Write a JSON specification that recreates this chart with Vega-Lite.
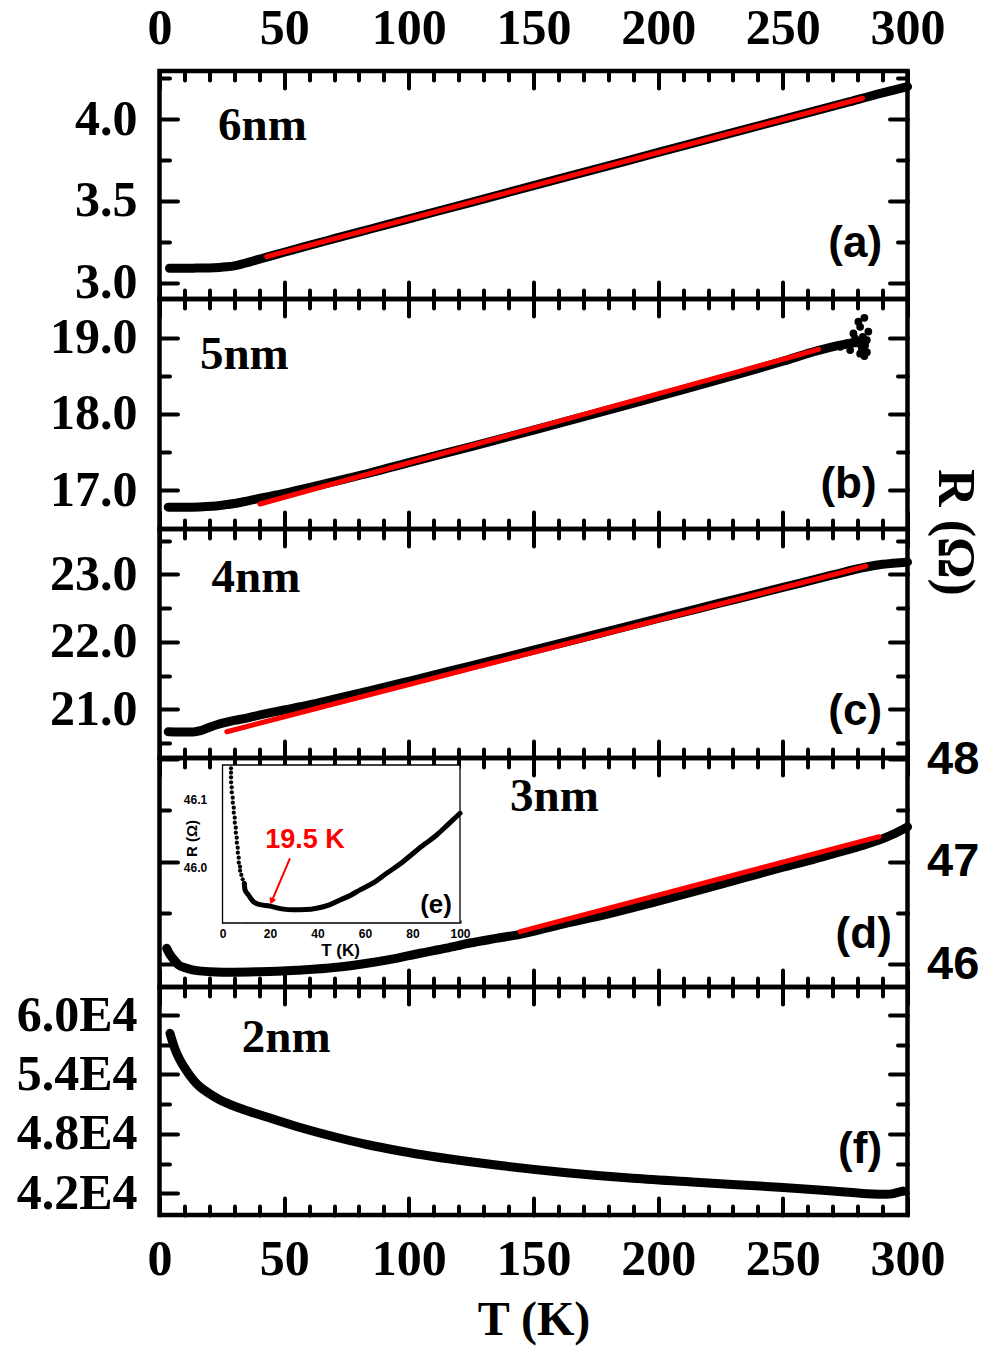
{
"$schema": "https://vega.github.io/schema/vega-lite/v6.json",
"background": "white",
"padding": {"left": 13.5, "top": 0, "right": 5, "bottom": 5},
"bounds": "flush",
"spacing": 0,
"config": {
  "view": {"stroke": "black", "strokeWidth": 4.5},
  "axis": {"domain": false, "grid": false, "tickColor": "black", "tickWidth": 4, "tickCap": "round", "labelFont": "Liberation Serif", "labelFontWeight": "bold", "labelFontSize": 50, "labelColor": "black", "labelFlush": false, "labelOverlap": false, "titleFont": "Liberation Serif", "titleFontWeight": "bold", "titleColor": "black"}
},
"datasets": {
  "a_black": [{"T":4,"R":3.088},{"T":10,"R":3.088},{"T":15,"R":3.089},{"T":20,"R":3.09},{"T":24,"R":3.093},{"T":27,"R":3.097},{"T":30,"R":3.103},{"T":33,"R":3.113},{"T":36,"R":3.126},{"T":39,"R":3.139},{"T":43,"R":3.156},{"T":50,"R":3.186},{"T":60,"R":3.228},{"T":70,"R":3.269},{"T":85,"R":3.33},{"T":100,"R":3.391},{"T":125,"R":3.492},{"T":150,"R":3.594},{"T":175,"R":3.695},{"T":200,"R":3.797},{"T":225,"R":3.898},{"T":250,"R":4.0},{"T":275,"R":4.1},{"T":290,"R":4.162},{"T":300,"R":4.2}],
  "a_red": [{"T":43,"R":3.159},{"T":282,"R":4.129}],
  "b_black": [{"T":3.5,"R":16.775},{"T":10,"R":16.775},{"T":16,"R":16.778},{"T":21,"R":16.786},{"T":25,"R":16.8},{"T":30,"R":16.823},{"T":35,"R":16.855},{"T":40,"R":16.89},{"T":50,"R":16.955},{"T":60,"R":17.03},{"T":70,"R":17.11},{"T":85,"R":17.23},{"T":100,"R":17.36},{"T":125,"R":17.57},{"T":150,"R":17.785},{"T":175,"R":18.005},{"T":200,"R":18.23},{"T":230,"R":18.5},{"T":250,"R":18.69},{"T":264,"R":18.83},{"T":272,"R":18.895},{"T":283,"R":18.96}],
  "b_red": [{"T":40.3,"R":16.816},{"T":264.3,"R":18.846}],
  "b_noise": [{"T":282.7,"R":19.261},{"T":282.7,"R":18.758},{"T":281,"R":19.143},{"T":282.1,"R":19.012},{"T":283.7,"R":18.969},{"T":278.3,"R":19.056},{"T":279.7,"R":18.925},{"T":275.6,"R":18.925},{"T":281.7,"R":18.86},{"T":277,"R":18.837},{"T":274.3,"R":18.9},{"T":284.3,"R":19.08},{"T":280.3,"R":19.21},{"T":283.7,"R":18.81},{"T":273,"R":18.88},{"T":279,"R":18.99},{"T":283,"R":18.9},{"T":281,"R":18.79}],
  "c_black": [{"T":3.5,"R":20.668},{"T":8,"R":20.664},{"T":13.6,"R":20.665},{"T":16.5,"R":20.685},{"T":19.5,"R":20.725},{"T":23,"R":20.77},{"T":26.5,"R":20.805},{"T":30,"R":20.835},{"T":35,"R":20.87},{"T":40,"R":20.915},{"T":50,"R":20.99},{"T":60,"R":21.065},{"T":70,"R":21.15},{"T":85,"R":21.28},{"T":100,"R":21.415},{"T":125,"R":21.645},{"T":150,"R":21.875},{"T":175,"R":22.11},{"T":200,"R":22.345},{"T":225,"R":22.575},{"T":250,"R":22.805},{"T":270,"R":22.99},{"T":283,"R":23.105},{"T":290,"R":23.148},{"T":300,"R":23.18}],
  "c_red": [{"T":27,"R":20.668},{"T":283.4,"R":23.12}],
  "d_black": [{"T":2.9,"R":46.153},{"T":4,"R":46.1},{"T":5.5,"R":46.05},{"T":7.5,"R":45.995},{"T":10.9,"R":45.958},{"T":15,"R":45.935},{"T":20.3,"R":45.925},{"T":30,"R":45.92},{"T":40.3,"R":45.925},{"T":55,"R":45.94},{"T":67,"R":45.958},{"T":80,"R":45.995},{"T":93.8,"R":46.05},{"T":104.5,"R":46.105},{"T":115,"R":46.155},{"T":124.5,"R":46.205},{"T":135,"R":46.25},{"T":144.6,"R":46.29},{"T":160,"R":46.38},{"T":180,"R":46.49},{"T":200,"R":46.615},{"T":216.8,"R":46.723},{"T":235,"R":46.845},{"T":250,"R":46.945},{"T":262,"R":47.02},{"T":272,"R":47.09},{"T":280,"R":47.145},{"T":288.6,"R":47.21},{"T":294,"R":47.265},{"T":300,"R":47.34}],
  "d_red": [{"T":144.6,"R":46.316},{"T":288.6,"R":47.244}],
  "inset_dots": [{"T":3.58,"R":46.1447},{"T":3.58,"R":46.1383},{"T":3.6,"R":46.1316},{"T":3.62,"R":46.1243},{"T":3.87,"R":46.117},{"T":3.9,"R":46.1097},{"T":4.29,"R":46.1019},{"T":4.32,"R":46.0946},{"T":4.72,"R":46.0873},{"T":4.75,"R":46.0801},{"T":5.14,"R":46.0728},{"T":5.17,"R":46.0655},{"T":5.56,"R":46.0582},{"T":5.6,"R":46.0509},{"T":5.98,"R":46.0437},{"T":6.02,"R":46.0364},{"T":6.4,"R":46.0291},{"T":6.44,"R":46.0218},{"T":6.82,"R":46.0146},{"T":6.86,"R":46.0073},{"T":7.37,"R":46.0015},{"T":7.4,"R":45.9956},{"T":7.92,"R":45.9894},{"T":8.5,"R":45.983},{"T":9.18,"R":45.977}],
  "inset_line": [{"T":9.18,"R":45.977},{"T":9.47,"R":45.968},{"T":10.95,"R":45.96},{"T":12.97,"R":45.9505},{"T":15,"R":45.947},{"T":20,"R":45.944},{"T":25,"R":45.94},{"T":29.8,"R":45.9386},{"T":35,"R":45.939},{"T":39.66,"R":45.941},{"T":45,"R":45.946},{"T":49.47,"R":45.953},{"T":54,"R":45.96},{"T":57.9,"R":45.9677},{"T":64,"R":45.979},{"T":69.1,"R":45.9918},{"T":75,"R":46.006},{"T":80.3,"R":46.021},{"T":85,"R":46.034},{"T":90.2,"R":46.0476},{"T":95,"R":46.063},{"T":100,"R":46.0792}],
  "f_black": [{"T":4.2,"R":58150},{"T":6,"R":56700},{"T":8.2,"R":55450},{"T":10.5,"R":54500},{"T":13.6,"R":53435},{"T":16,"R":52800},{"T":18.9,"R":52250},{"T":24.3,"R":51415},{"T":32.3,"R":50581},{"T":43,"R":49703},{"T":56.4,"R":48643},{"T":69.7,"R":47734},{"T":83.1,"R":46927},{"T":96.4,"R":46271},{"T":109.7,"R":45716},{"T":123.2,"R":45231},{"T":136.6,"R":44807},{"T":163.3,"R":44080},{"T":189.9,"R":43515},{"T":216.8,"R":43091},{"T":250.1,"R":42586},{"T":270.1,"R":42233},{"T":283.8,"R":41960},{"T":291.8,"R":41899},{"T":298.2,"R":42233}]
},
"vconcat": [
{
 "width": 748, "height": 228,
 "layer": [
  {"data": {"name": "a_black"}, "mark": {"type": "line", "color": "black", "strokeWidth": 9, "strokeCap": "round", "strokeJoin": "round", "interpolate": "monotone"},
   "encoding": {"x": {"field": "T", "type": "quantitative", "scale": {"domain": [0, 300], "nice": false, "zero": false}, "axis": {"orient": "bottom", "values": [0,50,100,150,200,250,300], "tickSize": -17, "labels": false, "title": null}},
                "y": {"field": "R", "type": "quantitative", "scale": {"domain": [2.9, 4.2956], "nice": false, "zero": false}, "axis": {"orient": "left", "values": [3, 3.5, 4], "tickSize": -18, "labelPadding": 40.5, "format": ".1f", "title": null}}}},
  {"data": {"name": "a_red"}, "mark": {"type": "line", "color": "#ff0000", "strokeWidth": 5, "strokeCap": "round"},
   "encoding": {"x": {"field": "T", "type": "quantitative", "scale": {"domain": [0, 300], "nice": false, "zero": false}, "axis": {"orient": "top", "values": [0,50,100,150,200,250,300], "tickSize": -17, "labelPadding": 35, "format": "d", "title": null}},
                "y": {"field": "R", "type": "quantitative", "scale": {"domain": [2.9, 4.2956], "nice": false, "zero": false}, "axis": {"orient": "right", "values": [3, 3.5, 4], "tickSize": -18, "labels": false, "title": null}}}},
  {"data": {"name": "a_red"}, "mark": {"type": "line", "opacity": 0},
   "encoding": {"x": {"field": "T", "type": "quantitative", "scale": {"domain": [0, 300], "nice": false, "zero": false}, "axis": {"orient": "bottom", "values": [10,20,30,40,60,70,80,90,110,120,130,140,160,170,180,190,210,220,230,240,260,270,280,290], "tickSize": -9, "labels": false, "title": null}},
                "y": {"field": "R", "type": "quantitative", "scale": {"domain": [2.9, 4.2956], "nice": false, "zero": false}, "axis": {"orient": "left", "values": [3.25, 3.75, 4.25], "tickSize": -10, "labels": false, "title": null}}}},
  {"data": {"name": "a_red"}, "mark": {"type": "line", "opacity": 0},
   "encoding": {"x": {"field": "T", "type": "quantitative", "scale": {"domain": [0, 300], "nice": false, "zero": false}, "axis": {"orient": "top", "values": [10,20,30,40,60,70,80,90,110,120,130,140,160,170,180,190,210,220,230,240,260,270,280,290], "tickSize": -9, "labels": false, "title": null}},
                "y": {"field": "R", "type": "quantitative", "scale": {"domain": [2.9, 4.2956], "nice": false, "zero": false}, "axis": {"orient": "right", "values": [3.25, 3.75, 4.25], "tickSize": -10, "labels": false, "title": null}}}},
  {"data": {"values": [{}]}, "mark": {"type": "text", "text": "6nm", "font": "Liberation Serif", "fontWeight": "bold", "fontSize": 47, "align": "left", "baseline": "alphabetic", "color": "black"},
   "encoding": {"x": {"datum": 23.5, "type": "quantitative", "scale": {"domain": [0, 300], "nice": false, "zero": false}, "axis": null},
                "y": {"datum": 3.873, "type": "quantitative", "scale": {"domain": [2.9, 4.2956], "nice": false, "zero": false}, "axis": null}}},
  {"data": {"values": [{}]}, "mark": {"type": "text", "text": "(a)", "font": "Liberation Sans", "fontWeight": "bold", "fontSize": 44, "align": "right", "baseline": "alphabetic", "color": "black"},
   "encoding": {"x": {"datum": 289.8, "type": "quantitative", "scale": {"domain": [0, 300], "nice": false, "zero": false}, "axis": null},
                "y": {"datum": 3.157, "type": "quantitative", "scale": {"domain": [2.9, 4.2956], "nice": false, "zero": false}, "axis": null}}}
 ],
 "resolve": {"axis": {"x": "independent", "y": "independent"}}
},
{
 "width": 748, "height": 230,
 "layer": [
  {"data": {"name": "b_black"}, "mark": {"type": "line", "color": "black", "strokeWidth": 9, "strokeCap": "round", "strokeJoin": "round", "interpolate": "monotone"},
   "encoding": {"x": {"field": "T", "type": "quantitative", "scale": {"domain": [0, 300], "nice": false, "zero": false}, "axis": {"orient": "bottom", "values": [0,50,100,150,200,250,300], "tickSize": -17, "labels": false, "title": null}},
                "y": {"field": "R", "type": "quantitative", "scale": {"domain": [16.488, 19.508], "nice": false, "zero": false}, "axis": {"orient": "left", "values": [17, 18, 19], "tickSize": -18, "labelPadding": 40.5, "format": ".1f", "title": null}}}},
  {"data": {"name": "b_noise"}, "mark": {"type": "point", "filled": true, "color": "black", "opacity": 1, "size": 60},
   "encoding": {"x": {"field": "T", "type": "quantitative", "scale": {"domain": [0, 300], "nice": false, "zero": false}, "axis": null},
                "y": {"field": "R", "type": "quantitative", "scale": {"domain": [16.488, 19.508], "nice": false, "zero": false}, "axis": null}}},
  {"data": {"name": "b_red"}, "mark": {"type": "line", "color": "#ff0000", "strokeWidth": 5, "strokeCap": "round"},
   "encoding": {"x": {"field": "T", "type": "quantitative", "scale": {"domain": [0, 300], "nice": false, "zero": false}, "axis": {"orient": "top", "values": [0,50,100,150,200,250,300], "tickSize": -17, "labels": false, "title": null}},
                "y": {"field": "R", "type": "quantitative", "scale": {"domain": [16.488, 19.508], "nice": false, "zero": false}, "axis": {"orient": "right", "values": [17, 18, 19], "tickSize": -18, "labels": false, "title": "R (Ω)", "titleFontSize": 52, "titleAngle": 90, "titleX": 46.5, "titleY": 233, "titleAlign": "center", "titleBaseline": "middle"}}}},
  {"data": {"name": "b_red"}, "mark": {"type": "line", "opacity": 0},
   "encoding": {"x": {"field": "T", "type": "quantitative", "scale": {"domain": [0, 300], "nice": false, "zero": false}, "axis": {"orient": "bottom", "values": [10,20,30,40,60,70,80,90,110,120,130,140,160,170,180,190,210,220,230,240,260,270,280,290], "tickSize": -9, "labels": false, "title": null}},
                "y": {"field": "R", "type": "quantitative", "scale": {"domain": [16.488, 19.508], "nice": false, "zero": false}, "axis": {"orient": "left", "values": [17.5, 18.5], "tickSize": -10, "labels": false, "title": null}}}},
  {"data": {"name": "b_red"}, "mark": {"type": "line", "opacity": 0},
   "encoding": {"x": {"field": "T", "type": "quantitative", "scale": {"domain": [0, 300], "nice": false, "zero": false}, "axis": {"orient": "top", "values": [10,20,30,40,60,70,80,90,110,120,130,140,160,170,180,190,210,220,230,240,260,270,280,290], "tickSize": -9, "labels": false, "title": null}},
                "y": {"field": "R", "type": "quantitative", "scale": {"domain": [16.488, 19.508], "nice": false, "zero": false}, "axis": {"orient": "right", "values": [17.5, 18.5], "tickSize": -10, "labels": false, "title": null}}}},
  {"data": {"values": [{}]}, "mark": {"type": "text", "text": "5nm", "font": "Liberation Serif", "fontWeight": "bold", "fontSize": 47, "align": "left", "baseline": "alphabetic", "color": "black"},
   "encoding": {"x": {"datum": 16.2, "type": "quantitative", "scale": {"domain": [0, 300], "nice": false, "zero": false}, "axis": null},
                "y": {"datum": 18.588, "type": "quantitative", "scale": {"domain": [16.488, 19.508], "nice": false, "zero": false}, "axis": null}}},
  {"data": {"values": [{}]}, "mark": {"type": "text", "text": "(b)", "font": "Liberation Sans", "fontWeight": "bold", "fontSize": 44, "align": "right", "baseline": "alphabetic", "color": "black"},
   "encoding": {"x": {"datum": 287.6, "type": "quantitative", "scale": {"domain": [0, 300], "nice": false, "zero": false}, "axis": null},
                "y": {"datum": 16.891, "type": "quantitative", "scale": {"domain": [16.488, 19.508], "nice": false, "zero": false}, "axis": null}}}
 ],
 "resolve": {"axis": {"x": "independent", "y": "independent"}}
},
{
 "width": 748, "height": 229,
 "layer": [
  {"data": {"name": "c_black"}, "mark": {"type": "line", "color": "black", "strokeWidth": 9, "strokeCap": "round", "strokeJoin": "round", "interpolate": "monotone"},
   "encoding": {"x": {"field": "T", "type": "quantitative", "scale": {"domain": [0, 300], "nice": false, "zero": false}, "axis": {"orient": "bottom", "values": [0,50,100,150,200,250,300], "tickSize": -17, "labels": false, "title": null}},
                "y": {"field": "R", "type": "quantitative", "scale": {"domain": [20.2785, 23.671], "nice": false, "zero": false}, "axis": {"orient": "left", "values": [21, 22, 23], "tickSize": -18, "labelPadding": 40.5, "format": ".1f", "title": null}}}},
  {"data": {"name": "c_red"}, "mark": {"type": "line", "color": "#ff0000", "strokeWidth": 5, "strokeCap": "round"},
   "encoding": {"x": {"field": "T", "type": "quantitative", "scale": {"domain": [0, 300], "nice": false, "zero": false}, "axis": {"orient": "top", "values": [0,50,100,150,200,250,300], "tickSize": -17, "labels": false, "title": null}},
                "y": {"field": "R", "type": "quantitative", "scale": {"domain": [20.2785, 23.671], "nice": false, "zero": false}, "axis": {"orient": "right", "values": [21, 22, 23], "tickSize": -18, "labels": false, "title": null}}}},
  {"data": {"name": "c_red"}, "mark": {"type": "line", "opacity": 0},
   "encoding": {"x": {"field": "T", "type": "quantitative", "scale": {"domain": [0, 300], "nice": false, "zero": false}, "axis": {"orient": "bottom", "values": [10,20,30,40,60,70,80,90,110,120,130,140,160,170,180,190,210,220,230,240,260,270,280,290], "tickSize": -9, "labels": false, "title": null}},
                "y": {"field": "R", "type": "quantitative", "scale": {"domain": [20.2785, 23.671], "nice": false, "zero": false}, "axis": {"orient": "left", "values": [20.5, 21.5, 22.5, 23.5], "tickSize": -10, "labels": false, "title": null}}}},
  {"data": {"name": "c_red"}, "mark": {"type": "line", "opacity": 0},
   "encoding": {"x": {"field": "T", "type": "quantitative", "scale": {"domain": [0, 300], "nice": false, "zero": false}, "axis": {"orient": "top", "values": [10,20,30,40,60,70,80,90,110,120,130,140,160,170,180,190,210,220,230,240,260,270,280,290], "tickSize": -9, "labels": false, "title": null}},
                "y": {"field": "R", "type": "quantitative", "scale": {"domain": [20.2785, 23.671], "nice": false, "zero": false}, "axis": {"orient": "right", "values": [20.5, 21.5, 22.5, 23.5], "tickSize": -10, "labels": false, "title": null}}}},
  {"data": {"values": [{}]}, "mark": {"type": "text", "text": "4nm", "font": "Liberation Serif", "fontWeight": "bold", "fontSize": 47, "align": "left", "baseline": "alphabetic", "color": "black"},
   "encoding": {"x": {"datum": 20.9, "type": "quantitative", "scale": {"domain": [0, 300], "nice": false, "zero": false}, "axis": null},
                "y": {"datum": 22.733, "type": "quantitative", "scale": {"domain": [20.2785, 23.671], "nice": false, "zero": false}, "axis": null}}},
  {"data": {"values": [{}]}, "mark": {"type": "text", "text": "(c)", "font": "Liberation Sans", "fontWeight": "bold", "fontSize": 44, "align": "right", "baseline": "alphabetic", "color": "black"},
   "encoding": {"x": {"datum": 289.8, "type": "quantitative", "scale": {"domain": [0, 300], "nice": false, "zero": false}, "axis": null},
                "y": {"datum": 20.767, "type": "quantitative", "scale": {"domain": [20.2785, 23.671], "nice": false, "zero": false}, "axis": null}}}
 ],
 "resolve": {"axis": {"x": "independent", "y": "independent"}}
},
{
 "width": 748, "height": 229,
 "layer": [
  {"layer": [
    {"data": {"name": "d_black"}, "mark": {"type": "line", "color": "black", "strokeWidth": 9, "strokeCap": "round", "strokeJoin": "round", "interpolate": "monotone"},
     "encoding": {"x": {"field": "T", "type": "quantitative", "scale": {"domain": [0, 300], "nice": false, "zero": false}, "axis": {"orient": "bottom", "values": [0,50,100,150,200,250,300], "tickSize": -17, "labels": false, "title": null}},
                  "y": {"field": "R", "type": "quantitative", "scale": {"domain": [45.7753, 48.0127], "nice": false, "zero": false}, "axis": {"orient": "left", "values": [46, 47, 48], "tickSize": -18, "labels": false, "title": null}}}},
    {"data": {"name": "d_red"}, "mark": {"type": "line", "color": "#ff0000", "strokeWidth": 5, "strokeCap": "round"},
     "encoding": {"x": {"field": "T", "type": "quantitative", "scale": {"domain": [0, 300], "nice": false, "zero": false}, "axis": {"orient": "top", "values": [0,50,100,150,200,250,300], "tickSize": -17, "labels": false, "title": null}},
                  "y": {"field": "R", "type": "quantitative", "scale": {"domain": [45.7753, 48.0127], "nice": false, "zero": false}, "axis": {"orient": "right", "values": [46, 47, 48], "tickSize": -18, "labelPadding": 37, "format": "d", "labelFont": "Liberation Sans", "labelFontSize": 47, "title": null}}}},
    {"data": {"name": "d_red"}, "mark": {"type": "line", "opacity": 0},
     "encoding": {"x": {"field": "T", "type": "quantitative", "scale": {"domain": [0, 300], "nice": false, "zero": false}, "axis": {"orient": "bottom", "values": [10,20,30,40,60,70,80,90,110,120,130,140,160,170,180,190,210,220,230,240,260,270,280,290], "tickSize": -9, "labels": false, "title": null}},
                  "y": {"field": "R", "type": "quantitative", "scale": {"domain": [45.7753, 48.0127], "nice": false, "zero": false}, "axis": {"orient": "left", "values": [46.5, 47.5], "tickSize": -10, "labels": false, "title": null}}}},
    {"data": {"name": "d_red"}, "mark": {"type": "line", "opacity": 0},
     "encoding": {"x": {"field": "T", "type": "quantitative", "scale": {"domain": [0, 300], "nice": false, "zero": false}, "axis": {"orient": "top", "values": [10,20,30,40,60,70,80,90,110,120,130,140,160,170,180,190,210,220,230,240,260,270,280,290], "tickSize": -9, "labels": false, "title": null}},
                  "y": {"field": "R", "type": "quantitative", "scale": {"domain": [45.7753, 48.0127], "nice": false, "zero": false}, "axis": {"orient": "right", "values": [46.5, 47.5], "tickSize": -10, "labels": false, "title": null}}}},
    {"data": {"values": [{}]}, "mark": {"type": "text", "text": "3nm", "font": "Liberation Serif", "fontWeight": "bold", "fontSize": 47, "align": "left", "baseline": "alphabetic", "color": "black"},
     "encoding": {"x": {"datum": 140.6, "type": "quantitative", "scale": {"domain": [0, 300], "nice": false, "zero": false}, "axis": null},
                  "y": {"datum": 47.495, "type": "quantitative", "scale": {"domain": [45.7753, 48.0127], "nice": false, "zero": false}, "axis": null}}},
    {"data": {"values": [{}]}, "mark": {"type": "text", "text": "(d)", "font": "Liberation Sans", "fontWeight": "bold", "fontSize": 44, "align": "right", "baseline": "alphabetic", "color": "black"},
     "encoding": {"x": {"datum": 293.7, "type": "quantitative", "scale": {"domain": [0, 300], "nice": false, "zero": false}, "axis": null},
                  "y": {"datum": 46.153, "type": "quantitative", "scale": {"domain": [45.7753, 48.0127], "nice": false, "zero": false}, "axis": null}}}
   ],
   "resolve": {"axis": {"x": "independent", "y": "independent"}}
  },
  {"layer": [
    {"data": {"values": [{}]}, "mark": {"type": "rect", "fill": "white", "stroke": "black", "strokeWidth": 1.3},
     "encoding": {"x": {"datum": 0, "type": "quantitative", "scale": {"domain": [-26.53, 288.42], "nice": false, "zero": false}, "axis": {"orient": "bottom", "offset": -64, "values": [0,20,40,60,80,100], "tickSize": -3, "tickWidth": 1.2, "tickCap": "butt", "labelFont": "Liberation Sans", "labelFontSize": 12, "labelPadding": 8, "format": "d", "title": "T (K)", "titleFont": "Liberation Sans", "titleFontSize": 17, "titleX": 180.5, "titleY": 27, "titleAlign": "center", "titleBaseline": "middle", "titleAngle": 0}},
                  "x2": {"datum": 100},
                  "y": {"datum": 45.9195, "type": "quantitative", "scale": {"domain": [45.8263, 46.1597], "nice": false, "zero": false}, "axis": {"orient": "left", "offset": -63, "values": [46.0, 46.1], "tickSize": -3, "tickWidth": 1.2, "tickCap": "butt", "labelFont": "Liberation Sans", "labelFontSize": 12, "labelPadding": 18.8, "format": ".1f", "title": "R (Ω)", "titleFont": "Liberation Sans", "titleFontSize": 15, "titleX": -30.8, "titleY": 80, "titleAlign": "center", "titleBaseline": "middle", "titleAngle": -90}},
                  "y2": {"datum": 46.1495}}},
    {"data": {"name": "inset_line"}, "mark": {"type": "line", "color": "black", "strokeWidth": 5, "strokeCap": "round", "strokeJoin": "round", "interpolate": "monotone"},
     "encoding": {"x": {"field": "T", "type": "quantitative", "scale": {"domain": [-26.53, 288.42], "nice": false, "zero": false}, "axis": {"orient": "bottom", "offset": -64, "values": [10,30,50,70,90], "tickSize": -2, "tickWidth": 1.2, "tickCap": "butt", "labels": false, "title": null}},
                  "y": {"field": "R", "type": "quantitative", "scale": {"domain": [45.8263, 46.1597], "nice": false, "zero": false}, "axis": {"orient": "left", "offset": -63, "values": [45.95, 46.05], "tickSize": -2, "tickWidth": 1.2, "tickCap": "butt", "labels": false, "title": null}}}},
    {"data": {"name": "inset_dots"}, "mark": {"type": "point", "filled": true, "color": "black", "opacity": 1, "size": 18},
     "encoding": {"x": {"field": "T", "type": "quantitative", "scale": {"domain": [-26.53, 288.42], "nice": false, "zero": false}, "axis": null},
                  "y": {"field": "R", "type": "quantitative", "scale": {"domain": [45.8263, 46.1597], "nice": false, "zero": false}, "axis": null}}},
    {"data": {"values": [{}]}, "mark": {"type": "rule", "color": "#ff0000", "strokeWidth": 2},
     "encoding": {"x": {"datum": 28.4, "type": "quantitative", "scale": {"domain": [-26.53, 288.42], "nice": false, "zero": false}, "axis": null},
                  "x2": {"datum": 20.7},
                  "y": {"datum": 46.0137, "type": "quantitative", "scale": {"domain": [45.8263, 46.1597], "nice": false, "zero": false}, "axis": null},
                  "y2": {"datum": 45.951}}},
    {"data": {"values": [{}]}, "mark": {"type": "point", "shape": "triangle-down", "filled": true, "color": "#ff0000", "opacity": 1, "size": 55, "angle": 23},
     "encoding": {"x": {"datum": 20.7, "type": "quantitative", "scale": {"domain": [-26.53, 288.42], "nice": false, "zero": false}, "axis": null},
                  "y": {"datum": 45.951, "type": "quantitative", "scale": {"domain": [45.8263, 46.1597], "nice": false, "zero": false}, "axis": null}}},
    {"data": {"values": [{}]}, "mark": {"type": "text", "text": "19.5 K", "font": "Liberation Sans", "fontWeight": "bold", "fontSize": 27, "align": "center", "baseline": "alphabetic", "color": "#ff0000"},
     "encoding": {"x": {"datum": 34.7, "type": "quantitative", "scale": {"domain": [-26.53, 288.42], "nice": false, "zero": false}, "axis": null},
                  "y": {"datum": 46.0287, "type": "quantitative", "scale": {"domain": [45.8263, 46.1597], "nice": false, "zero": false}, "axis": null}}},
    {"data": {"values": [{}]}, "mark": {"type": "text", "text": "(e)", "font": "Liberation Sans", "fontWeight": "bold", "fontSize": 26, "align": "center", "baseline": "alphabetic", "color": "black"},
     "encoding": {"x": {"datum": 89.9, "type": "quantitative", "scale": {"domain": [-26.53, 288.42], "nice": false, "zero": false}, "axis": null},
                  "y": {"datum": 45.934, "type": "quantitative", "scale": {"domain": [45.8263, 46.1597], "nice": false, "zero": false}, "axis": null}}}
   ],
   "resolve": {"axis": {"x": "independent", "y": "independent"}}
  }
 ],
 "resolve": {"scale": {"x": "independent", "y": "independent"}, "axis": {"x": "independent", "y": "independent"}}
},
{
 "width": 748, "height": 228,
 "layer": [
  {"data": {"name": "f_black"}, "mark": {"type": "line", "color": "black", "strokeWidth": 9, "strokeCap": "round", "strokeJoin": "round", "interpolate": "monotone"},
   "encoding": {"x": {"field": "T", "type": "quantitative", "scale": {"domain": [0, 300], "nice": false, "zero": false}, "axis": {"orient": "bottom", "values": [0,50,100,150,200,250,300], "tickSize": -17, "labelPadding": 36, "format": "d", "title": "T (K)", "titleFontSize": 48, "titleX": 374, "titleY": 119, "titleAlign": "center", "titleBaseline": "alphabetic", "titleAngle": 0}},
                "y": {"field": "R", "type": "quantitative", "scale": {"domain": [39809, 62827], "nice": false, "zero": false}, "axis": {"orient": "left", "values": [42000, 48000, 54000, 60000], "tickSize": -18, "labelPadding": 40.5, "labelExpr": "format(datum.value/10000, '.1f') + 'E4'", "title": null}}}},
  {"data": {"name": "f_black"}, "mark": {"type": "line", "opacity": 0},
   "encoding": {"x": {"field": "T", "type": "quantitative", "scale": {"domain": [0, 300], "nice": false, "zero": false}, "axis": {"orient": "top", "values": [0,50,100,150,200,250,300], "tickSize": -17, "labels": false, "title": null}},
                "y": {"field": "R", "type": "quantitative", "scale": {"domain": [39809, 62827], "nice": false, "zero": false}, "axis": {"orient": "right", "values": [42000, 48000, 54000, 60000], "tickSize": -18, "labels": false, "title": null}}}},
  {"data": {"name": "f_black"}, "mark": {"type": "line", "opacity": 0},
   "encoding": {"x": {"field": "T", "type": "quantitative", "scale": {"domain": [0, 300], "nice": false, "zero": false}, "axis": {"orient": "bottom", "values": [10,20,30,40,60,70,80,90,110,120,130,140,160,170,180,190,210,220,230,240,260,270,280,290], "tickSize": -9, "labels": false, "title": null}},
                "y": {"field": "R", "type": "quantitative", "scale": {"domain": [39809, 62827], "nice": false, "zero": false}, "axis": {"orient": "left", "values": [45000, 51000, 57000], "tickSize": -10, "labels": false, "title": null}}}},
  {"data": {"name": "f_black"}, "mark": {"type": "line", "opacity": 0},
   "encoding": {"x": {"field": "T", "type": "quantitative", "scale": {"domain": [0, 300], "nice": false, "zero": false}, "axis": {"orient": "top", "values": [10,20,30,40,60,70,80,90,110,120,130,140,160,170,180,190,210,220,230,240,260,270,280,290], "tickSize": -9, "labels": false, "title": null}},
                "y": {"field": "R", "type": "quantitative", "scale": {"domain": [39809, 62827], "nice": false, "zero": false}, "axis": {"orient": "right", "values": [45000, 51000, 57000], "tickSize": -10, "labels": false, "title": null}}}},
  {"data": {"values": [{}]}, "mark": {"type": "text", "text": "2nm", "font": "Liberation Serif", "fontWeight": "bold", "fontSize": 47, "align": "left", "baseline": "alphabetic", "color": "black"},
   "encoding": {"x": {"datum": 33.0, "type": "quantitative", "scale": {"domain": [0, 300], "nice": false, "zero": false}, "axis": null},
                "y": {"datum": 56295, "type": "quantitative", "scale": {"domain": [39809, 62827], "nice": false, "zero": false}, "axis": null}}},
  {"data": {"values": [{}]}, "mark": {"type": "text", "text": "(f)", "font": "Liberation Sans", "fontWeight": "bold", "fontSize": 44, "align": "right", "baseline": "alphabetic", "color": "black"},
   "encoding": {"x": {"datum": 289.8, "type": "quantitative", "scale": {"domain": [0, 300], "nice": false, "zero": false}, "axis": null},
                "y": {"datum": 45052, "type": "quantitative", "scale": {"domain": [39809, 62827], "nice": false, "zero": false}, "axis": null}}}
 ],
 "resolve": {"axis": {"x": "independent", "y": "independent"}}
}
]
}
